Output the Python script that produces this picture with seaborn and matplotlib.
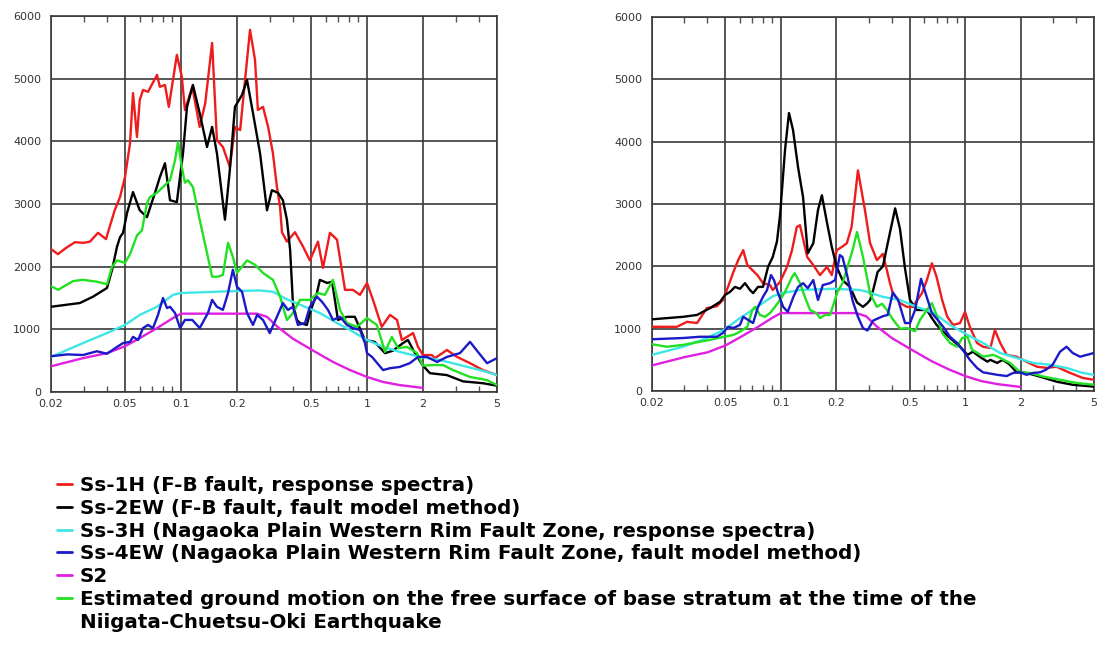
import numpy as np
import pandas as pd
import matplotlib
matplotlib.use("Agg")
import matplotlib.pyplot as plt
from matplotlib.lines import Line2D
from matplotlib.ticker import FixedLocator, NullFormatter, FixedFormatter
import seaborn as sns

# ---------------- data: period (s) and acceleration (Gal) ----------------
# Left panel
L_ss1h_T = [0.020, 0.0218, 0.0241, 0.0269, 0.030, 0.0324, 0.0358, 0.0395, 0.044, 0.047, 0.050, 0.0532,
            0.0552, 0.058, 0.060, 0.0625, 0.0665, 0.0743, 0.077, 0.082, 0.086, 0.095, 0.101, 0.105, 0.115,
            0.126, 0.135, 0.147, 0.156, 0.168, 0.183, 0.195, 0.208, 0.221, 0.235, 0.250, 0.259, 0.276,
            0.294, 0.312, 0.328, 0.341, 0.349, 0.371, 0.41, 0.453, 0.493, 0.545, 0.58, 0.632, 0.69, 0.762,
            0.84, 0.917, 1.0, 1.077, 1.20, 1.33, 1.45, 1.54, 1.77, 1.88, 2.0, 2.23, 2.32, 2.69, 3.05, 3.58,
            4.2, 5.0]
L_ss1h_A = [2280, 2200, 2300, 2390, 2380, 2400, 2540, 2440, 2900, 3110, 3430, 3970,
            4770, 4070, 4660, 4820, 4790, 5060, 4870, 4900, 4550, 5380, 5030, 4500, 4870,
            4230, 4610, 5570, 4020, 3910, 3590, 4230, 4180, 4980, 5780, 5300, 4500, 4550,
            4230, 3810, 3270, 2950, 2550, 2400, 2550, 2320, 2100, 2400, 1980, 2540, 2430, 1630,
            1630, 1550, 1740, 1470, 1040, 1230, 1150, 830, 940, 720, 590, 590, 540, 670, 560, 460,
            350, 270]

L_ss2ew_T = [0.020, 0.0286, 0.0336, 0.040, 0.0426, 0.0453, 0.047, 0.0488, 0.0513, 0.0552, 0.060, 0.0656,
             0.0725, 0.077, 0.082, 0.0873, 0.095, 0.1025, 0.1077, 0.1159, 0.126, 0.138, 0.147, 0.156,
             0.1723, 0.183, 0.195, 0.2128, 0.2264, 0.2438, 0.266, 0.290, 0.308, 0.332, 0.353, 0.371,
             0.386, 0.400, 0.42, 0.436, 0.475, 0.493, 0.538, 0.558, 0.61, 0.649, 0.698, 0.78, 0.86,
             0.975, 1.10, 1.25, 1.38, 1.56, 1.66, 1.81, 2.0, 2.18, 2.69, 3.28, 4.2, 5.0]
L_ss2ew_A = [1360, 1420, 1520, 1660, 1950, 2320, 2470, 2540, 2860, 3190, 2900, 2790,
             3180, 3430, 3650, 3060, 3030, 3810, 4550, 4900, 4450, 3910, 4230, 3810,
             2750, 3540, 4550, 4740, 4980, 4450, 3810, 2900, 3220, 3180, 3060, 2750,
             2270, 1400, 1150, 1100, 1070, 1260, 1580, 1790, 1740, 1760, 1150, 1200, 1200,
             830, 800, 620, 660, 780, 830, 620, 420, 300, 270, 170, 140, 100]

L_ss3h_T = [0.020, 0.0297, 0.040, 0.050, 0.060, 0.0743, 0.0906, 0.100, 0.126, 0.190, 0.265, 0.312,
            0.371, 0.464, 0.558, 0.69, 0.81, 1.0, 1.22, 1.50, 1.93, 2.47, 3.16, 4.05, 5.0]
L_ss3h_A = [560, 780, 940, 1070, 1230, 1360, 1550, 1580, 1590, 1610, 1620, 1600,
            1480, 1360, 1260, 1100, 990, 830, 720, 640, 560, 510, 430, 350, 270]

L_ss4ew_T = [0.020, 0.0244, 0.0297, 0.0353, 0.040, 0.0453, 0.0488, 0.0532, 0.0552, 0.0588, 0.0625,
             0.0665, 0.0707, 0.0752, 0.080, 0.0841, 0.0873, 0.0929, 0.0988, 0.105, 0.115, 0.126, 0.1396,
             0.147, 0.156, 0.168, 0.179, 0.190, 0.20, 0.2128, 0.2264, 0.2438, 0.2564, 0.276, 0.30, 0.328,
             0.353, 0.376, 0.40, 0.425, 0.464, 0.493, 0.538, 0.573, 0.617, 0.656, 0.716, 0.78, 0.84,
             0.917, 0.975, 1.0, 1.064, 1.22, 1.33, 1.50, 1.70, 1.88, 2.10, 2.38, 2.69, 3.16, 3.58, 3.95,
             4.42, 5.0]
L_ss4ew_A = [570, 600, 590, 650, 610, 720, 780, 800, 880, 830, 1020,
             1070, 1020, 1230, 1500, 1340, 1360, 1260, 1020, 1150, 1150, 1020, 1260,
             1470, 1360, 1310, 1580, 1950, 1680, 1600, 1260, 1070, 1230, 1150, 940, 1200,
             1420, 1310, 1360, 1070, 1100, 1360, 1520, 1440, 1310, 1150, 1200, 1070, 1020,
             990, 780, 620, 560, 350, 380, 400, 460, 560, 560, 480, 560, 620, 800, 640,
             460, 540]

L_est_T = [0.020, 0.0218, 0.0263, 0.0297, 0.0353, 0.040, 0.0426, 0.0453, 0.050, 0.0532, 0.058, 0.0617,
           0.0656, 0.0681, 0.0743, 0.080, 0.0873, 0.0929, 0.0964, 0.101, 0.105, 0.109, 0.1159, 0.126,
           0.138, 0.147, 0.158, 0.168, 0.179, 0.190, 0.20, 0.2264, 0.250, 0.276, 0.312, 0.341, 0.371,
           0.40, 0.436, 0.493, 0.545, 0.594, 0.656, 0.716, 0.78, 0.883, 1.0, 1.13, 1.25, 1.36, 1.47,
           1.64, 1.86, 2.0, 2.26, 2.56, 2.90, 3.58, 4.42, 5.0]
L_est_A = [1690, 1630, 1770, 1790, 1760, 1720, 2000, 2100, 2060, 2200, 2500, 2580,
           3010, 3110, 3180, 3270, 3380, 3700, 3990, 3590, 3340, 3380, 3270, 2750,
           2220, 1840, 1840, 1870, 2380, 2160, 1900, 2100, 2030, 1900, 1790, 1520, 1150,
           1260, 1470, 1470, 1580, 1550, 1790, 1310, 1100, 1040, 1180, 1070, 640, 880, 700,
           720, 620, 420, 430, 430, 350, 240, 190, 110]

# S2 design spectrum (same in both panels)
S2_T = [0.020, 0.0297, 0.040, 0.050, 0.060, 0.0743, 0.0906, 0.100, 0.256, 0.290, 0.33, 0.40,
        0.50, 0.656, 0.81, 1.0, 1.22, 1.50, 2.0]
S2_A = [410, 540, 620, 730, 860, 1020, 1180, 1250, 1250, 1200, 1040, 850,
        680, 480, 350, 240, 160, 110, 65]

# Right panel
R_ss1h_T = [0.020, 0.0273, 0.031, 0.0351, 0.0397, 0.045, 0.0485, 0.0517, 0.0553, 0.0587, 0.0625, 0.0658,
            0.070, 0.0746, 0.080, 0.0873, 0.0904, 0.099, 0.108, 0.115, 0.122, 0.127, 0.139, 0.150, 0.163,
            0.178, 0.189, 0.201, 0.214, 0.228, 0.242, 0.262, 0.286, 0.305, 0.332, 0.358, 0.391, 0.405,
            0.443, 0.483, 0.52, 0.583, 0.62, 0.66, 0.70, 0.75, 0.80, 0.86, 0.938, 0.998, 1.06, 1.16,
            1.25, 1.37, 1.45, 1.55, 1.68, 1.90, 2.15, 2.45, 2.77, 3.13, 3.71, 4.34, 5.0]
R_ss1h_A = [1030, 1030, 1110, 1090, 1330, 1360, 1460, 1670, 1910, 2100, 2260, 2020,
            1940, 1860, 1730, 1700, 1620, 1750, 1990, 2260, 2630, 2660, 2150, 2020, 1860,
            1990, 1860, 2260, 2310, 2370, 2630, 3540, 2900, 2370, 2100, 2200, 1730, 1570,
            1410, 1350, 1350, 1570, 1780, 2050, 1830, 1460, 1190, 1060, 1090, 1270, 1030, 770,
            710, 690, 980, 770, 580, 550, 470, 390, 370, 390, 290, 210, 180]

R_ss2ew_T = [0.020, 0.0295, 0.0351, 0.0413, 0.0468, 0.0498, 0.053, 0.0564, 0.060, 0.0639, 0.068, 0.0707,
             0.0752, 0.080, 0.0852, 0.0904, 0.0953, 0.099, 0.1054, 0.1107, 0.1164, 0.124, 0.132, 0.140,
             0.150, 0.159, 0.167, 0.178, 0.189, 0.201, 0.216, 0.237, 0.259, 0.279, 0.295, 0.305, 0.317,
             0.335, 0.358, 0.380, 0.417, 0.443, 0.472, 0.502, 0.546, 0.62, 0.66, 0.70, 0.76, 0.828,
             0.938, 1.03, 1.10, 1.20, 1.32, 1.37, 1.49, 1.60, 1.75, 1.90, 2.15, 2.55, 3.13, 3.83, 5.0]
R_ss2ew_A = [1150, 1190, 1220, 1330, 1430, 1540, 1590, 1670, 1640, 1730, 1620, 1570,
             1670, 1670, 1990, 2150, 2400, 2820, 3870, 4460, 4190, 3590, 3110, 2210,
             2370, 2900, 3140, 2700, 2310, 1990, 1780, 1670, 1420, 1350, 1410, 1460, 1620,
             1910, 2000, 2370, 2930, 2600, 1960, 1460, 1300, 1300, 1170, 1060, 950, 850,
             710, 580, 630, 550, 470, 500, 450, 500, 420, 300, 290, 230, 150, 100, 70]

R_ss3h_T = [0.020, 0.0295, 0.0397, 0.0492, 0.060, 0.0746, 0.0904, 0.1015, 0.127, 0.192, 0.269, 0.295,
            0.358, 0.443, 0.546, 0.676, 0.828, 1.03, 1.25, 1.55, 1.90, 2.34, 2.89, 3.55, 4.34, 5.0]
R_ss3h_A = [580, 710, 850, 980, 1170, 1350, 1520, 1570, 1620, 1640, 1620, 1590,
            1510, 1460, 1350, 1250, 1060, 900, 770, 610, 530, 450, 420, 370, 290, 260]

R_ss4ew_T = [0.020, 0.0295, 0.0364, 0.045, 0.0485, 0.0517, 0.0553, 0.060, 0.0625, 0.0665, 0.0707, 0.0752,
             0.080, 0.0842, 0.0884, 0.0918, 0.0966, 0.103, 0.109, 0.117, 0.124, 0.132, 0.140, 0.150,
             0.159, 0.169, 0.185, 0.197, 0.209, 0.216, 0.23, 0.245, 0.262, 0.279, 0.295, 0.317, 0.358,
             0.380, 0.405, 0.433, 0.472, 0.502, 0.535, 0.576, 0.62, 0.66, 0.71, 0.76, 0.828, 0.905,
             0.97, 1.06, 1.16, 1.25, 1.49, 1.68, 1.82, 1.99, 2.15, 2.34, 2.55, 2.74, 2.98, 3.27, 3.55,
             3.83, 4.20, 4.58, 5.0]
R_ss4ew_A = [830, 850, 870, 870, 930, 1030, 1010, 1060, 1190, 1140, 1090, 1350,
             1510, 1620, 1860, 1780, 1570, 1350, 1270, 1510, 1670, 1730, 1650, 1780,
             1460, 1700, 1730, 1780, 2180, 2150, 1830, 1450, 1190, 1010, 970, 1130, 1200,
             1220, 1580, 1460, 1090, 1090, 1300, 1800, 1500, 1250, 1140, 1030, 870, 770,
             660, 500, 370, 300, 260, 240, 290, 300, 260, 290, 300, 340, 420, 630, 710,
             610, 550, 580, 610]

R_est_T = [0.020, 0.0241, 0.0295, 0.0364, 0.0413, 0.0492, 0.0553, 0.060, 0.0658, 0.070, 0.0724, 0.0771,
           0.082, 0.0873, 0.0929, 0.099, 0.1054, 0.115, 0.119, 0.127, 0.135, 0.144, 0.156, 0.163,
           0.174, 0.185, 0.191, 0.203, 0.216, 0.23, 0.245, 0.259, 0.279, 0.305, 0.332, 0.354, 0.376,
           0.405, 0.443, 0.483, 0.535, 0.569, 0.62, 0.66, 0.70, 0.75, 0.828, 0.905, 0.963, 1.03,
           1.09, 1.17, 1.25, 1.42, 1.55, 1.75, 1.99, 2.25, 2.66, 3.27, 4.0, 5.0]
R_est_A = [750, 710, 740, 790, 820, 870, 900, 950, 1030, 1300, 1350, 1220,
           1190, 1250, 1350, 1460, 1590, 1830, 1890, 1730, 1510, 1300, 1250, 1170,
           1220, 1220, 1350, 1590, 1730, 1990, 2260, 2550, 2150, 1560, 1350, 1400, 1300,
           1150, 1000, 1010, 960, 1140, 1300, 1410, 1220, 930, 770, 710, 850, 870,
           660, 610, 550, 580, 530, 450, 300, 290, 230, 180, 130, 100]

labels = [
    "Ss-1H (F-B fault, response spectra)",
    "Ss-2EW (F-B fault, fault model method)",
    "Ss-3H (Nagaoka Plain Western Rim Fault Zone, response spectra)",
    "Ss-4EW (Nagaoka Plain Western Rim Fault Zone, fault model method)",
    "S2",
    "Estimated ground motion on the free surface of base stratum at the time of the",
]
label_cont = "Niigata-Chuetsu-Oki Earthquake"

x_ticks = [0.02, 0.05, 0.1, 0.2, 0.5, 1, 2, 5]
x_tick_labels = ["0.02", "0.05", "0.1", "0.2", "0.5", "1", "2", "5"]
y_ticks = [0, 1000, 2000, 3000, 4000, 5000, 6000]

# ---------------- style ----------------
sns.set_style("white")
plt.rcParams["font.family"] = ["DejaVu Sans"]

colors = {
    "ss1h": "#ee1c1c",
    "ss2ew": "#000000",
    "ss3h": "#3fe6e6",
    "ss4ew": "#1a1ac8",
    "s2": "#e020e0",
    "est": "#22e022",
}
grid_col = "#3a3a3a"
lw = 1.7

panels = [
    [("ss1h", L_ss1h_T, L_ss1h_A), ("ss2ew", L_ss2ew_T, L_ss2ew_A), ("ss3h", L_ss3h_T, L_ss3h_A),
     ("ss4ew", L_ss4ew_T, L_ss4ew_A), ("s2", S2_T, S2_A), ("est", L_est_T, L_est_A)],
    [("ss1h", R_ss1h_T, R_ss1h_A), ("ss2ew", R_ss2ew_T, R_ss2ew_A), ("ss3h", R_ss3h_T, R_ss3h_A),
     ("ss4ew", R_ss4ew_T, R_ss4ew_A), ("s2", S2_T, S2_A), ("est", R_est_T, R_est_A)],
]
draw_order = ["ss1h", "ss2ew", "s2", "ss3h", "est", "ss4ew"]

fig = plt.figure(figsize=(10.97, 6.5), dpi=100)
ax_rects = [[51 / 1097, 1 - 392 / 650, 446 / 1097, 376 / 650],
            [652 / 1097, 1 - 391 / 650, 442 / 1097, 374 / 650]]

for rect, series in zip(ax_rects, panels):
    ax = fig.add_axes(rect)
    lookup = {k: (t, a) for k, t, a in series}
    for z, key in enumerate(draw_order):
        t, a = lookup[key]
        df = pd.DataFrame({"T": t, "A": a})
        sns.lineplot(data=df, x="T", y="A", ax=ax, color=colors[key], lw=lw,
                     sort=False, estimator=None, zorder=3 + z)
    ax.set_xscale("log")
    ax.set_xlim(0.02, 5)
    ax.set_ylim(0, 6000)
    ax.xaxis.set_major_locator(FixedLocator(x_ticks))
    ax.xaxis.set_major_formatter(FixedFormatter(x_tick_labels))
    ax.xaxis.set_minor_locator(FixedLocator([0.03, 0.04, 0.06, 0.07, 0.08, 0.09,
                                             0.3, 0.4, 0.6, 0.7, 0.8, 0.9, 3, 4]))
    ax.xaxis.set_minor_formatter(NullFormatter())
    ax.yaxis.set_major_locator(FixedLocator(y_ticks))
    ax.set_xlabel("")
    ax.set_ylabel("")
    ax.grid(True, which="major", color=grid_col, lw=1.2)
    ax.set_axisbelow(True)
    for s in ax.spines.values():
        s.set_color(grid_col)
        s.set_linewidth(1.2)
    ax.tick_params(axis="both", which="major", length=0, labelsize=8, labelcolor="#333333")
    ax.tick_params(axis="y", which="major", pad=7)
    ax.tick_params(axis="x", which="major", pad=5)
    ax.tick_params(axis="x", which="minor", direction="in", length=4, width=1,
                   color="#555555", top=True, bottom=True)
    if ax.get_legend() is not None:
        ax.get_legend().remove()

# legend below the panels
handles = [Line2D([], [], color=colors[k], lw=2) for k in
           ["ss1h", "ss2ew", "ss3h", "ss4ew", "s2", "est"]]
handles.append(Line2D([], [], color="none", lw=0))
leg = fig.legend(handles, labels + [label_cont], loc="upper left",
                 bbox_to_anchor=(57 / 1097, 1 - 476 / 650), frameon=False,
                 prop={"weight": "bold", "size": 14.3}, handlelength=0.75, handletextpad=0.4,
                 labelspacing=0.19, borderpad=0, borderaxespad=0)
for txt in leg.get_texts():
    txt.set_color("black")

fig.savefig("out.png", dpi=100)
